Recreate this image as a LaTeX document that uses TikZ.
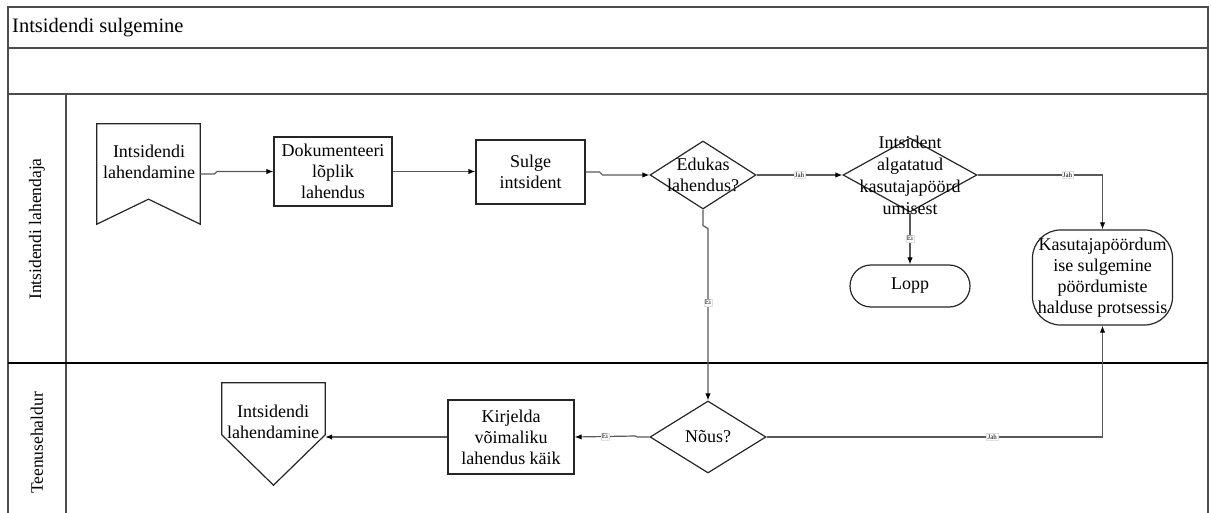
\documentclass[tikz,border=0pt]{standalone}
\usepackage{fontspec}
\setmainfont{Liberation Serif}
\usetikzlibrary{shapes.geometric,arrows.meta,calc}
\newcommand\nfnt{\fontsize{18}{21}\selectfont}
\begin{document}
\begin{tikzpicture}[x=1pt,y=-1pt,
  frame/.style={draw=black!70,line width=1.6pt},
  shp/.style={draw=black!85,line width=1.2pt},
  box/.style={shp,inner sep=0pt,align=center,font=\nfnt},
  txt/.style={align=center,font=\nfnt,inner sep=0pt},
  dia/.style={diamond,shp,inner sep=0pt},
  conn/.style={draw=black!65,line width=1.2pt},
  arr/.style={conn,-{Latex[length=7pt,width=5.5pt,color=black]}},
  lbl/.style={fill=white,draw=black!12,line width=0.4pt,font=\fontsize{7}{8}\selectfont,inner sep=1pt},
]
\path[use as bounding box] (0,0) rectangle (1211,513);
\clip (0,0) rectangle (1211,513);
% pool frame
\draw[frame] (8,7) rectangle (1208,530);
\draw[frame] (8,48) -- (1208,48);
\draw[frame] (8,94) -- (1208,94);
\draw[frame] (66,94) -- (66,530);
\draw[black,line width=1.6pt] (8,363) -- (1208,363);
\node[anchor=west,font=\fontsize{20.5}{23}\selectfont,inner sep=0pt] (title) at (12,28) {Intsidendi sulgemine};
\node[rotate=90,font=\fontsize{17.5}{20}\selectfont,inner sep=0pt] (lane1) at (37,229) {Intsidendi lahendaja};
\node[rotate=90,font=\fontsize{17.5}{20}\selectfont,inner sep=0pt] (lane2) at (37,443) {Teenusehaldur};

% lane 1
\node[minimum width=103,minimum height=100,inner sep=0pt] (ref1) at (148.5,174) {};
\draw[shp] (ref1.north west) -- (ref1.north east) -- (ref1.south east) -- ($(ref1.south)+(0,-25)$) -- (ref1.south west) -- cycle;
\node[txt] (ref1t) at (149,162) {Intsidendi\\lahendamine};
\node[box,minimum width=118,minimum height=69] (dok) at (333,171.5) {Dokumenteeri\\lõplik\\lahendus};
\node[box,minimum width=109,minimum height=64] (sulge) at (530.5,172) {Sulge\\intsident};
\node[dia,minimum width=106,minimum height=68,label={[txt]center:Edukas\\lahendus?}] (edu) at (703,175) {};
\node[dia,minimum width=134,minimum height=74,label={[txt,font=\fontsize{18}{22}\selectfont]center:Intsident\\algatatud\\kasutajapöörd\\umisest}] (ints) at (910,175) {};
\node[box,rounded corners=21,minimum width=120,minimum height=42] (lopp) at (910,286) {Lopp};
\node[box,rounded corners=28,minimum width=140,minimum height=95] (kas) at (1102.5,277.5) {Kasutajapöördum\\ise sulgemine\\pöördumiste\\halduse protsessis};

% lane 2
\node[minimum width=103,minimum height=102,inner sep=0pt] (ref2) at (273.5,434) {};
\draw[shp] (ref2.north west) -- (ref2.north east) -- ($(ref2.north east)+(0,52)$) -- (ref2.south) -- ($(ref2.north west)+(0,52)$) -- cycle;
\node[txt] (ref2t) at (273,422) {Intsidendi\\lahendamine};
\node[box,minimum width=126,minimum height=74] (kir) at (511,437) {Kirjelda\\võimaliku\\lahendus käik};
\node[dia,minimum width=116,minimum height=72,label={[txt]center:Nõus?}] (nous) at (708,437) {};

% connectors
\draw[arr] (ref1.east) -- ++(14,0) -- ++(3,-2.5) -- (dok.west);
\draw[arr] (dok.east) -- (dok.east -| sulge.west);
\draw[arr] (sulge.east) -- ++(14,0) -- ++(3,3) -- (edu.west);
\draw[arr] (edu.east) -- node[lbl]{Jah} (ints.west);
\draw[arr] (ints.south) -- node[lbl]{Ei} (lopp.north);
\draw[arr] (ints.east) -| node[lbl,pos=0.36]{Jah} (kas.north);
\draw[arr] (edu.south) -- ++(0,16) -- ++(5,3) -- node[lbl,pos=0.43]{Ei} (nous.north);
\draw[arr] (nous.east) -| node[lbl,pos=0.336]{Jah} (kas.south);
\draw[arr] (nous.west) -- ++(-12,0) -- ++(-2,-1) -- node[lbl]{Ei} (kir.east);
\draw[arr] (kir.west) -- (ref2.east |- kir.west);
\end{tikzpicture}
\end{document}
